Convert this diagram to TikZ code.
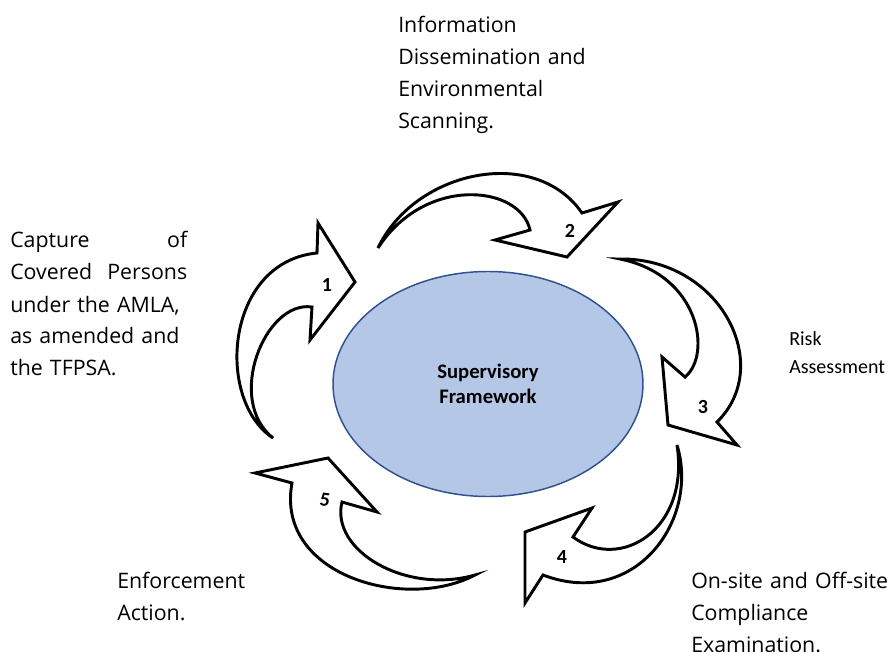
\documentclass[tikz,border=0pt]{standalone}
\usepackage{fontspec}
\setmainfont{Open Sans}
\newfontfamily\calibri{Carlito}
\usetikzlibrary{shapes.geometric}
% one line of a justified block, stretched to the full width
\newcommand\jline[1]{\leavevmode\hbox to \linewidth{#1}}
\begin{document}
\begin{tikzpicture}[x=0.75pt,y=-0.75pt,
  cyc/.style={draw=black, line width=2.2pt, fill=white},
  num/.style={font=\calibri\bfseries\fontsize{15}{17}\selectfont, inner sep=0pt},
  caption/.style={font=\fontsize{16}{24}\selectfont, inner sep=0pt, anchor=base west, align=left},
  core/.style={ellipse, draw={rgb,255:red,47;green,82;blue,143}, line width=1.1pt,
    fill={rgb,255:red,180;green,199;blue,231}, minimum width=232.5pt, minimum height=168.75pt,
    inner sep=0pt, align=center, font=\calibri\bfseries\fontsize{15.5}{18.75}\selectfont}]
\path[use as bounding box] (0,0) rectangle (896,652);

% centre
\node[core] (hub) at (488,384) {Supervisory\\Framework};

% the five curved arrows of the cycle
\draw[cyc] (273,438) .. controls (215,400) and (225,262) .. (317,253) -- (318,223) -- (355,282)
  -- (310,340) -- (312,307) .. controls (265,300) and (225,400) .. cycle;
\draw[cyc] (378,248) .. controls (415,170) and (535,145) .. (582,213) -- (618,202) -- (567,257)
  -- (495,240) -- (530,230) .. controls (520,185) and (425,175) .. cycle;
\draw[cyc] (620,259) .. controls (720,258) and (775,365) .. (717,422) -- (737,445) -- (668,425)
  -- (662,357) -- (685,377) .. controls (712,355) and (700,275) .. cycle;
\draw[cyc] (677,445) .. controls (700,520) and (635,610) .. (543,575) -- (525,603) -- (525,532)
  -- (592,508) -- (573,537) .. controls (620,572) and (690,530) .. cycle;
\draw[cyc] (475,575) .. controls (405,612) and (275,575) .. (292,483) -- (255,473) -- (328,458)
  -- (377,512) -- (342,502) .. controls (330,550) and (405,595) .. cycle;

% step numbers
\node[num] (n1) at (327,285) {1};
\node[num] (n2) at (570,231) {2};
\node[num] (n3) at (703,407) {3};
\node[num] (n4) at (562,557) {4};
\node[num, rotate=-8] (n5) at (325,500) {5};

% step captions
\node[caption, text width=150pt] (info) at (398,33)
  {Information\\Dissemination and\\Environmental\\Scanning.};
\node[caption, text width=132.75pt] (capture) at (10,248)
  {Capture\hfill of\\Covered\hfill Persons\\\jline{under the AMLA,}\\%
   \jline{as amended and}\\the TFPSA.};
\node[caption, text width=80pt, font=\calibri\fontsize{15}{21}\selectfont] (risk) at (789,345)
  {Risk\\Assessment};
\node[caption, text width=160pt] (exam) at (691,588)
  {On-site and Off-site\\Compliance\\Examination.};
\node[caption, text width=120pt] (enforce) at (117,588)
  {Enforcement\\Action.};
\end{tikzpicture}
\end{document}
